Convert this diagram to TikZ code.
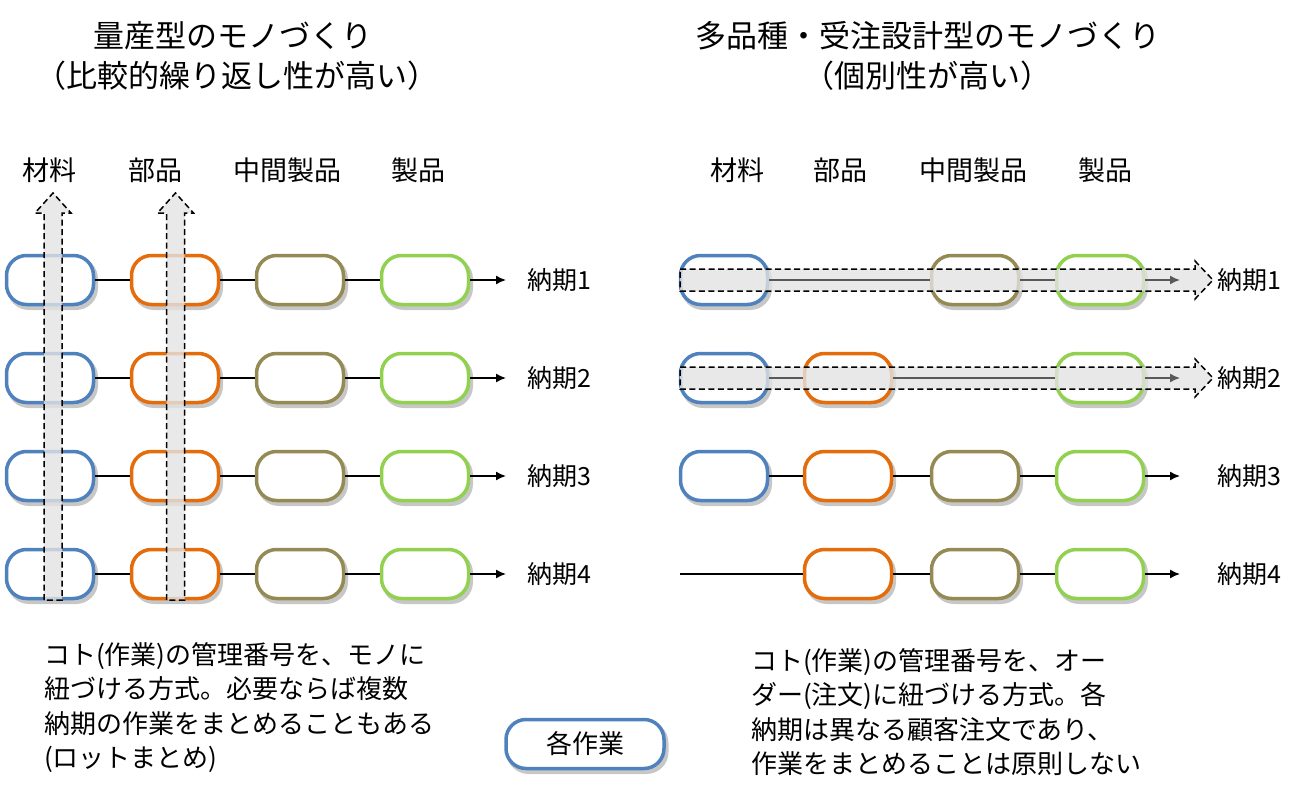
\documentclass[tikz,border=0pt]{standalone}
\usepackage{fontspec}
\setmainfont{Noto Sans CJK JP}
\usetikzlibrary{arrows.meta}

\definecolor{cBlue}{HTML}{4F81BD}
\definecolor{cOrange}{HTML}{E46C0A}
\definecolor{cOlive}{HTML}{948A54}
\definecolor{cGreen}{HTML}{92D050}

\tikzset{
  job/.style={draw, line width=3.5pt, fill=white, rounded corners=20pt,
    minimum width=87pt, minimum height=49pt, inner sep=0pt,
    preaction={draw=black!22, fill=black!22, line width=4pt,
      transform canvas={xshift=2.5pt, yshift=-3.5pt}}},
  link/.style={line width=1.5pt},
  tolink/.style={line width=1.5pt, -{Latex[length=10pt,width=9pt]}},
  bigarrow/.style={draw, dash pattern=on 6pt off 3.5pt, line width=1.5pt,
    fill=gray!22, fill opacity=0.8},
  maintitle/.style={font=\fontsize{31}{36}\selectfont, inner sep=0pt},
  colhead/.style={font=\fontsize{27}{32}\selectfont, inner sep=0pt},
  duelbl/.style={anchor=west, font=\fontsize{25}{30}\selectfont, inner sep=0pt},
  note/.style={anchor=north west, align=left, inner sep=0pt,
    font=\fontsize{26}{34.5}\selectfont}
}

\begin{document}
\begin{tikzpicture}[x=1pt,y=-1pt]
\useasboundingbox (0,0) rectangle (1310,797);

% Titulos
\node[maintitle] (titL) at (233,36) {量産型のモノづくり};
\node[maintitle] (subL) at (237,76) {（比較的繰り返し性が高い）};
\node[maintitle] (titR) at (928,36) {多品種・受注設計型のモノづくり};
\node[maintitle] (subR) at (927,76) {（個別性が高い）};

% Colunas
\node[colhead] (hLa) at (50,170) {材料};
\node[colhead] (hLb) at (155,170) {部品};
\node[colhead] (hLc) at (287,170) {中間製品};
\node[colhead] (hLd) at (418,170) {製品};
\node[colhead] (hRa) at (737,170) {材料};
\node[colhead] (hRb) at (840,170) {部品};
\node[colhead] (hRc) at (973,170) {中間製品};
\node[colhead] (hRd) at (1105,170) {製品};

% Lado esquerdo
\foreach \r/\y in {1/280,2/378,3/476,4/574}{
  \node[job, draw=cBlue] (La\r) at (50,\y) {};
  \node[job, draw=cOrange] (Lb\r) at (175,\y) {};
  \node[job, draw=cOlive] (Lc\r) at (300,\y) {};
  \node[job, draw=cGreen] (Ld\r) at (425,\y) {};
  \coordinate (Le\r) at (506,\y);
  \node[duelbl] (Ln\r) at (527,\y) {納期\r};
  \draw[link] (La\r) -- (Lb\r);
  \draw[link] (Lb\r) -- (Lc\r);
  \draw[link] (Lc\r) -- (Ld\r);
  \draw[tolink] (Ld\r) -- (Le\r);
}

% Setas verticais (lote)
\foreach \cx in {53,175.5}{
  \draw[bigarrow] (\cx-9,600) -- (\cx-9,213) -- (\cx-18,213) -- (\cx,193)
    -- (\cx+18,213) -- (\cx+9,213) -- (\cx+9,600) -- cycle;
}

% Lado direito
\foreach \r/\y in {1/280,2/378,3/476,4/574}{
  \coordinate (Re\r) at (1180,\y);
  \node[duelbl] (Rn\r) at (1217,\y) {納期\r};
}
\node[job, draw=cBlue] (Ra1) at (724,280) {};
\node[job, draw=cOlive] (Rc1) at (975,280) {};
\node[job, draw=cGreen] (Rd1) at (1100,280) {};

\node[job, draw=cBlue] (Ra2) at (724,378) {};
\node[job, draw=cOrange] (Rb2) at (848,378) {};
\node[job, draw=cGreen] (Rd2) at (1100,378) {};

\node[job, draw=cBlue] (Ra3) at (724,476) {};
\node[job, draw=cOrange] (Rb3) at (848,476) {};
\node[job, draw=cOlive] (Rc3) at (975,476) {};
\node[job, draw=cGreen] (Rd3) at (1100,476) {};
\draw[link] (Ra3) -- (Rb3);
\draw[link] (Rb3) -- (Rc3);
\draw[link] (Rc3) -- (Rd3);
\draw[tolink] (Rd3) -- (Re3);

\coordinate (Rs4) at (680,574);
\node[job, draw=cOrange] (Rb4) at (848,574) {};
\node[job, draw=cOlive] (Rc4) at (975,574) {};
\node[job, draw=cGreen] (Rd4) at (1100,574) {};
\draw[link] (Rs4) -- (Rb4);
\draw[link] (Rb4) -- (Rc4);
\draw[link] (Rc4) -- (Rd4);
\draw[tolink] (Rd4) -- (Re4);

% Setas horizontais (pedido)
\foreach \cy in {280,378}{
  \draw[bigarrow] (680,\cy-11) -- (1195,\cy-11) -- (1195,\cy-19) -- (1213,\cy)
    -- (1195,\cy+19) -- (1195,\cy+11) -- (680,\cy+11) -- cycle;
}
\draw[link, black!65] (Ra1) -- (Rc1);
\draw[link, black!65] (Rc1) -- (Rd1);
\draw[tolink, black!65] (Rd1) -- (Re1);
\draw[link, black!65] (Ra2) -- (Rb2);
\draw[link, black!65] (Rb2) -- (Rd2);
\draw[tolink, black!65] (Rd2) -- (Re2);

% Legenda
\node[job, draw=cBlue, minimum width=158pt, font=\fontsize{26}{30}\selectfont]
  (legend) at (585,744) {各作業};

% Notas
\node[note] (noteL) at (44,642) {コト(作業)の管理番号を、モノに\\紐づける方式。必要ならば複数\\納期の作業をまとめることもある\\(ロットまとめ)};
\node[note] (noteR) at (751,648) {コト(作業)の管理番号を、オー\\ダー(注文)に紐づける方式。各\\納期は異なる顧客注文であり、\\作業をまとめることは原則しない};

\end{tikzpicture}
\end{document}
